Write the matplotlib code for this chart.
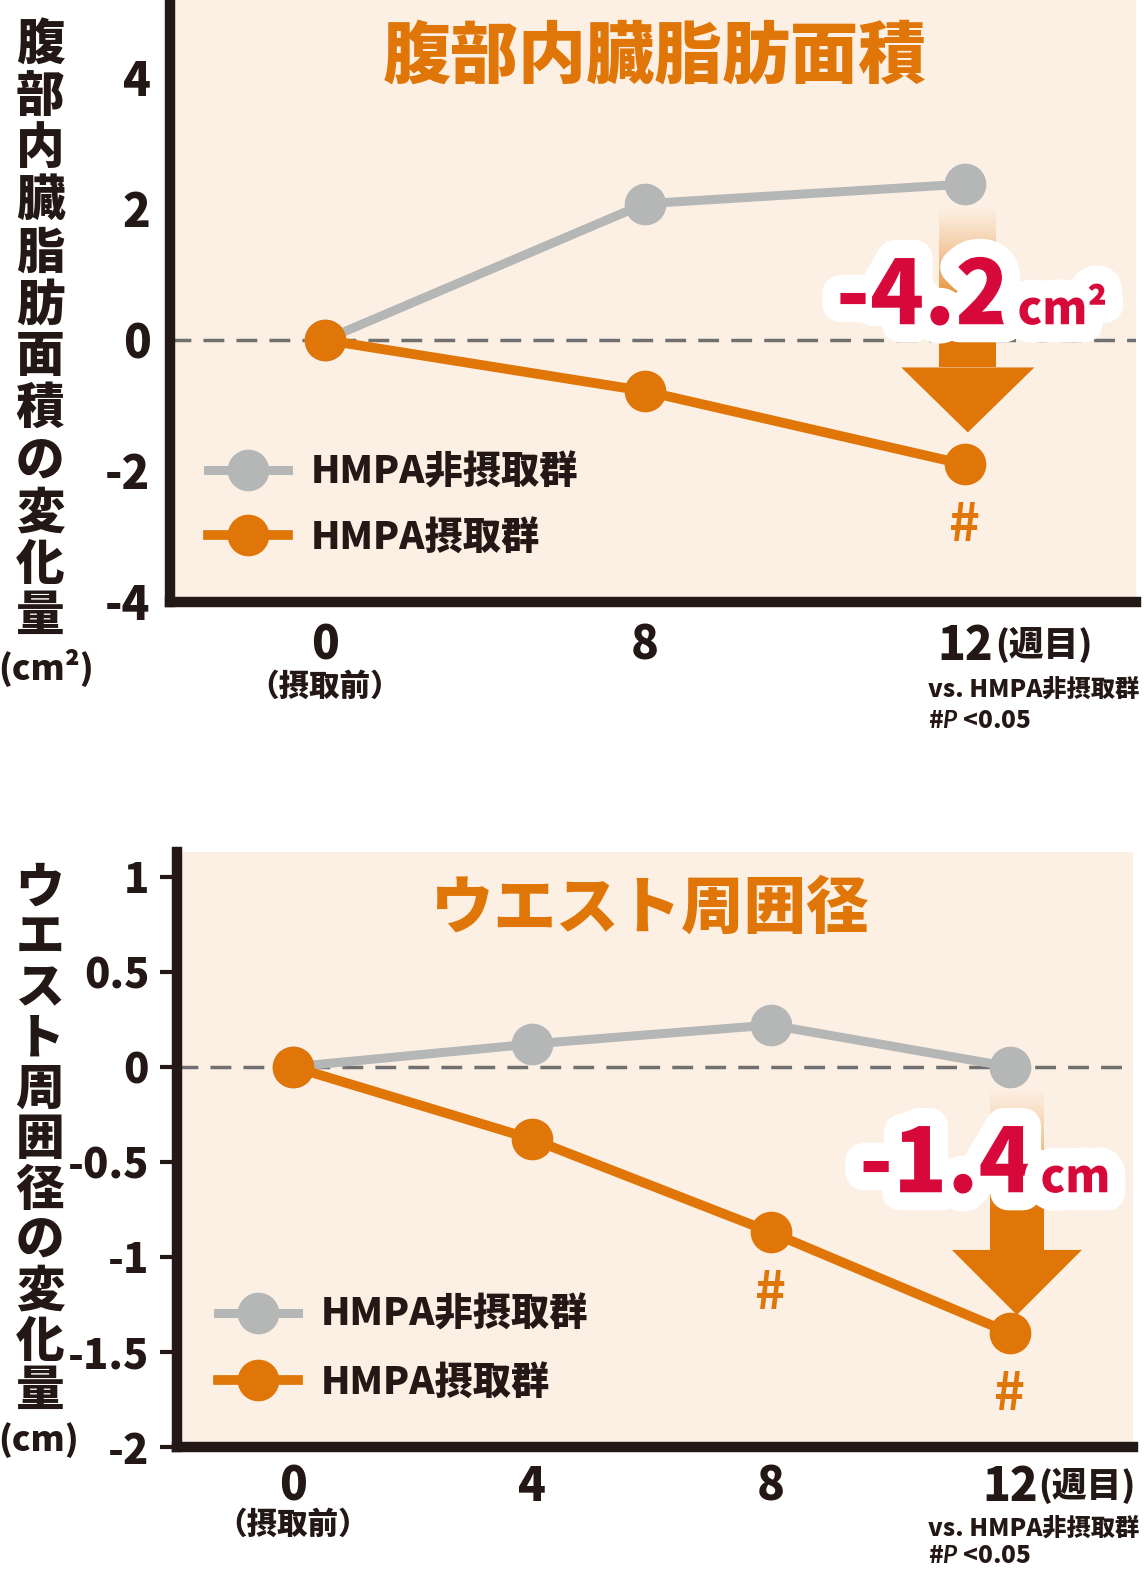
import matplotlib
matplotlib.use("Agg")
import matplotlib.pyplot as plt
import matplotlib.patheffects as pe
from matplotlib.patches import Polygon, Rectangle
import numpy as np

plt.rcParams['font.family'] = ['Noto Sans CJK JP', 'DejaVu Sans']
plt.rcParams['mathtext.fontset'] = 'custom'
plt.rcParams['mathtext.it'] = 'Lato:italic:bold'

# --- Daten: Bauchfett (viszerale Fettfläche) ---
vfa_weeks = ['0', '8', '12']
vfa_non = [0.0, 2.08, 2.38]
vfa_hmpa = [0.0, -0.78, -1.9]
vfa_sig = [False, False, True]
vfa_yticks = [4, 2, 0, -2, -4]
vfa_yticklabels = ['4', '2', '0', '-2', '-4']
vfa_title = '腹部内臓脂肪面積'
vfa_ylabel = '腹部内臓脂肪面積の変化量'
vfa_unit_label = '(cm²)'
vfa_diff = '-4.2'
vfa_diff_unit = 'cm²'

# --- Daten: Taillenumfang ---
waist_weeks = ['0', '4', '8', '12']
waist_non = [0.0, 0.12, 0.22, 0.0]
waist_hmpa = [0.0, -0.38, -0.87, -1.4]
waist_sig = [False, False, True, True]
waist_yticks = [1, 0.5, 0, -0.5, -1, -1.5, -2]
waist_yticklabels = ['1', '0.5', '0', '-0.5', '-1', '-1.5', '-2']
waist_title = 'ウエスト周囲径'
waist_ylabel = 'ウエスト周囲径の変化量'
waist_unit_label = '(cm)'
waist_diff = '-1.4'
waist_diff_unit = 'cm'

legend_labels = ['HMPA非摂取群', 'HMPA摂取群']
first_week_note = '（摂取前）'
last_week_note = '(週目)'
stat_note_1 = 'vs. HMPA非摂取群'
stat_note_2 = r'#$P$ <0.05'

ORANGE = '#e07508'
GRAY = '#b5b6b6'
DARK = '#231815'
BG = '#fcf0e4'
RED = '#d7093a'
DASH = '#707070'
HEAVY = 'black'

W, H = 1144, 1576


def draw_panel(fig, rect_px, weeks, non, hmpa, sig, yticks, yticklabels, ylim,
               title, title_fs, diff, diff_unit, unit_fs, cfg):
    x0, y0, x1, y1 = rect_px
    ax = fig.add_axes([x0 / W, 1 - y1 / H, (x1 - x0) / W, (y1 - y0) / H])
    ax.set_facecolor(BG)
    n = len(weeks)
    xs = np.arange(n)
    ax.set_xlim(cfg['xlim'])
    ax.set_ylim(ylim)
    xu = (cfg['xlim'][1] - cfg['xlim'][0]) / (x1 - x0)   # Dateneinheit je Pixel
    yu = (ylim[1] - ylim[0]) / (y1 - y0)

    for s in ['top', 'right']:
        ax.spines[s].set_visible(False)
    for s in ['left', 'bottom']:
        ax.spines[s].set_linewidth(7.5)
        ax.spines[s].set_color(DARK)
        ax.spines[s].set_capstyle('projecting')

    ax.axhline(0, color=DASH, lw=2.5, dashes=(6, 3.5), zorder=1)

    l_non, = ax.plot(xs, non, color=GRAY, lw=6.5, marker='o', ms=29,
                     solid_joinstyle='round', zorder=3)
    l_hmpa, = ax.plot(xs, hmpa, color=ORANGE, lw=7, marker='o', ms=29,
                      solid_joinstyle='round', zorder=4)

    # Signifikanz-Markierungen
    for i in range(n):
        if sig[i]:
            ax.annotate('#', (xs[i], hmpa[i]), xytext=(0, -44),
                        textcoords='offset points', ha='center', va='center',
                        fontsize=38, fontweight='bold', color=ORANGE)

    # Pfeil mit Verlauf vom grauen zum orangen Endpunkt
    xc = xs[-1] + cfg['arrow_dx'] * xu
    sw = cfg['shaft_w'] * xu / 2
    hw = cfg['head_w'] * xu / 2
    top = non[-1] - 24 * yu
    tip = hmpa[-1] + cfg['tip_gap'] * yu
    base = tip + 65 * yu
    grad_end = top - cfg['grad_len'] * yu
    alpha = np.linspace(0.05, 1.0, 100) ** 1.3
    rgba = np.zeros((100, 1, 4))
    rgba[..., :3] = matplotlib.colors.to_rgb(ORANGE)
    rgba[:, 0, 3] = alpha
    ax.imshow(rgba, extent=[xc - sw, xc + sw, grad_end, top], aspect='auto',
              origin='upper', zorder=2.5, interpolation='bilinear')
    ax.add_patch(Rectangle((xc - sw, base), 2 * sw, grad_end - base,
                           color=ORANGE, lw=0, zorder=2.5))
    ax.add_patch(Polygon([(xc - hw, base), (xc + hw, base), (xc, tip)],
                         closed=True, color=ORANGE, lw=0, zorder=2.5))
    ax.set_xlim(cfg['xlim'])
    ax.set_ylim(ylim)

    stroke = [pe.withStroke(linewidth=26, foreground='white',
                            capstyle='round', joinstyle='round')]
    ax.text(cfg['diff_x'], cfg['diff_y'], diff, ha='right', va='baseline',
            fontsize=64, fontweight=HEAVY, color=RED, zorder=6,
            path_effects=stroke)
    ax.text(cfg['diff_x'] + 8 * xu, cfg['diff_y'], diff_unit, ha='left',
            va='baseline', fontsize=unit_fs, fontweight=HEAVY, color=RED,
            zorder=6, path_effects=stroke)

    ax.text(cfg['title_xy'][0], cfg['title_xy'][1], title, transform=ax.transAxes,
            ha='center', va='center', fontsize=title_fs, fontweight=HEAVY,
            color=ORANGE)

    # Achsenbeschriftungen
    ax.set_yticks(yticks, yticklabels, fontsize=cfg['ytick_fs'],
                  fontweight=HEAVY, color=DARK)
    ax.set_xticks(xs, weeks, fontsize=33, fontweight=HEAVY, color=DARK)
    ax.tick_params(axis='x', length=0, pad=cfg['xpad'])
    ax.tick_params(axis='y', length=cfg['ytick_len'], width=3, color=DARK,
                   pad=cfg['ypad'])

    trans = ax.get_xaxis_transform()
    ax.text(xs[0], cfg['note0_y'], first_week_note, transform=trans, ha='center',
            va='center', fontsize=22, fontweight=HEAVY, color=DARK)
    ax.text(xs[-1] + cfg['weeks_dx'] * xu, cfg['weeks_y'], last_week_note,
            transform=trans, ha='left', va='center', fontsize=25,
            fontweight=HEAVY, color=DARK)
    ax.text(cfg['stat_x'], cfg['stat_y1'], stat_note_1, transform=trans,
            ha='left', va='center', fontsize=17.5, fontweight=HEAVY, color=DARK)
    ax.text(cfg['stat_x'], cfg['stat_y2'], stat_note_2, transform=trans,
            ha='left', va='center', fontsize=17.5, fontweight=HEAVY, color=DARK)

    ax.legend(handles=[l_non, l_hmpa], labels=legend_labels, loc='center left',
              bbox_to_anchor=cfg['legend_xy'], frameon=False, handlelength=2.1,
              handletextpad=0.6, labelspacing=cfg['legend_sp'], borderpad=0,
              borderaxespad=0, numpoints=1, labelcolor=DARK,
              prop=dict(weight=HEAVY, size=27.5))
    return ax


def vertical_label(fig, chars, x, y_start, step, unit, unit_x, unit_y, fs):
    for i, ch in enumerate(chars):
        fig.text(x / W, 1 - (y_start + i * step) / H, ch, ha='center',
                 va='center', fontsize=fs, fontweight=HEAVY, color=DARK)
    fig.text(unit_x / W, 1 - unit_y / H, unit, ha='center', va='center',
             fontsize=25, fontweight=HEAVY, color=DARK)


fig = plt.figure(figsize=(W / 100, H / 100), dpi=100)

cfg_top = dict(xlim=(-0.484, 2.535), arrow_dx=3, shaft_w=57, head_w=133,
               tip_gap=32, grad_len=110, diff_x=2.14, diff_y=0.24,
               title_xy=(0.502, 0.905), xpad=15, ytick_len=0, ypad=14,
               ytick_fs=33, note0_y=-0.14, weeks_dx=30, weeks_y=-0.072,
               stat_x=1.884, stat_y1=-0.145, stat_y2=-0.197,
               legend_xy=(0.039, 0.161), legend_sp=0.72)
draw_panel(fig, (170, 0, 1136, 602), vfa_weeks, vfa_non, vfa_hmpa, vfa_sig,
           vfa_yticks, vfa_yticklabels, (-4, 5.19), vfa_title, 49,
           vfa_diff, vfa_diff_unit, 33, cfg_top)

cfg_bot = dict(xlim=(-0.485, 3.515), arrow_dx=7, shaft_w=54, head_w=130,
               tip_gap=18, grad_len=120, diff_x=3.095, diff_y=-0.66,
               title_xy=(0.495, 0.905), xpad=12, ytick_len=12, ypad=8,
               ytick_fs=30, note0_y=-0.13, weeks_dx=28, weeks_y=-0.066,
               stat_x=2.657, stat_y1=-0.137, stat_y2=-0.183,
               legend_xy=(0.043, 0.165), legend_sp=0.78)
draw_panel(fig, (177, 852, 1133, 1447), waist_weeks, waist_non, waist_hmpa,
           waist_sig, waist_yticks, waist_yticklabels, (-2, 1.13), waist_title,
           45, waist_diff, waist_diff_unit, 33, cfg_bot)

vertical_label(fig, vfa_ylabel, 40, 45, 52, vfa_unit_label, 46, 668, 35)
vertical_label(fig, waist_ylabel, 40, 888, 50.4, waist_unit_label, 39, 1440, 35)

fig.savefig('out.png', dpi=100)
